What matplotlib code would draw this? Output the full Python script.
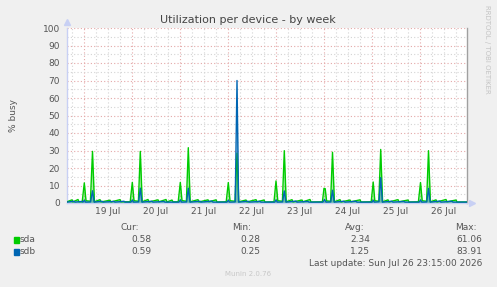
import numpy as np
import matplotlib
matplotlib.use("Agg")
from matplotlib import pyplot as plt

# hours since 19 Jul 00:00, values in % busy
sda_hours = [
    -8.5, -6.0, -5.5, -3.0, -2.5,
    -0.9, 0.15, 1.0, 3.2, 4.25, 5.2, 8.0, 8.5, 13.0, 13.5, 18.0, 18.5,
    23.1, 24.15, 25.0, 27.2, 28.15, 29.1, 32.0, 32.5, 37.0, 37.5, 41.0, 41.5, 44.0, 44.5,
    47.1, 48.15, 49.0, 51.2, 52.15, 53.1, 57.0, 57.5, 62.0, 62.5, 66.0, 66.5,
    71.1, 72.15, 73.0, 75.5, 76.5, 77.4, 81.0, 81.5, 86.0, 86.5, 90.0, 90.5,
    95.0, 96.0, 96.9, 99.2, 100.15, 101.1, 104.0, 104.5, 109.0, 109.5, 113.0, 113.5,
    119.2, 120.0, 120.6, 121.3, 123.3, 124.25, 125.2, 128.0, 128.5, 133.0, 133.5, 138.0, 138.5,
    143.6, 144.6, 145.4, 147.4, 148.35, 149.3, 152.0, 152.5, 157.0, 157.5, 162.0, 162.5,
    167.2, 168.25, 169.1, 171.3, 172.25, 173.2, 176.0, 176.5, 181.0, 181.5, 186.0, 186.5, 191.5,
]
sda_values = [
    0.7, 1.8, 0.6, 2.0, 0.7,
    0.7, 11.5, 1.3, 1.0, 29.5, 0.7, 1.9, 0.6, 1.6, 0.6, 1.9, 0.7,
    0.7, 11.8, 1.3, 1.0, 29.5, 0.7, 2.0, 0.6, 1.8, 0.7, 2.0, 0.6, 1.7, 0.7,
    0.7, 11.8, 1.4, 1.0, 31.6, 0.7, 1.9, 0.6, 1.8, 0.7, 1.8, 0.6,
    0.7, 11.7, 1.3, 1.0, 28.5, 0.7, 1.7, 0.6, 1.9, 0.7, 1.7, 0.6,
    0.7, 12.6, 1.3, 1.0, 29.9, 0.7, 1.9, 0.6, 1.7, 0.7, 2.0, 0.6,
    0.7, 8.4, 8.2, 1.2, 1.0, 29.0, 0.7, 1.9, 0.6, 1.7, 0.7, 1.8, 0.6,
    0.7, 12.0, 1.3, 1.0, 30.6, 0.7, 1.8, 0.6, 1.9, 0.7, 1.7, 0.6,
    0.7, 11.7, 1.3, 1.0, 29.9, 0.7, 1.8, 0.6, 2.0, 0.7, 1.7, 0.6, 0.6,
]
sdb_hours = [
    -8.5, -5.0, -4.5, -1.0, -0.5,
    0.15, 0.8, 3.3, 4.25, 5.1, 9.0, 9.5, 15.0, 15.5, 20.0, 20.5,
    23.5, 24.15, 24.8, 27.3, 28.15, 29.0, 34.0, 34.5, 40.0, 40.5,
    47.5, 48.15, 48.8, 51.3, 52.15, 53.0, 58.0, 58.5, 64.0, 64.5,
    71.5, 72.15, 72.8, 75.6, 76.5, 77.3, 82.0, 82.5, 88.0, 88.5,
    95.4, 96.0, 96.7, 99.3, 100.15, 101.0, 106.0, 106.5, 112.0, 112.5,
    119.5, 120.25, 121.0, 123.4, 124.25, 125.1, 130.0, 130.5, 136.0, 136.5,
    144.0, 144.6, 145.2, 147.5, 148.35, 149.2, 154.0, 154.5, 160.0, 160.5,
    167.6, 168.25, 168.9, 171.4, 172.25, 173.1, 178.0, 178.5, 184.0, 184.5, 191.5,
]
sdb_values = [
    0.5, 1.0, 0.5, 0.9, 0.5,
    1.6, 0.5, 0.6, 7.0, 0.5, 1.0, 0.5, 0.9, 0.5, 1.0, 0.5,
    0.5, 1.7, 0.5, 0.6, 8.5, 0.5, 1.0, 0.5, 0.9, 0.5,
    0.5, 1.8, 0.5, 0.6, 8.5, 0.5, 1.0, 0.5, 1.1, 0.5,
    0.5, 1.6, 0.5, 0.6, 70.0, 0.5, 1.0, 0.5, 0.9, 0.5,
    0.5, 1.8, 0.5, 0.6, 6.9, 0.5, 1.1, 0.5, 0.9, 0.5,
    0.5, 2.0, 0.5, 0.6, 7.3, 0.5, 1.0, 0.5, 1.0, 0.5,
    0.5, 1.6, 0.5, 0.7, 14.5, 0.5, 1.0, 0.5, 0.9, 0.5,
    0.5, 1.7, 0.5, 0.6, 8.4, 0.5, 1.1, 0.5, 1.0, 0.5, 0.5,
]

day_labels = ['19 Jul', '20 Jul', '21 Jul', '22 Jul', '23 Jul', '24 Jul', '25 Jul', '26 Jul']
label_hours = [12, 36, 60, 84, 108, 132, 156, 180]

series = ['sda', 'sdb']
colors = ['#00cc00', '#0066b3']
cur = ['0.58', '0.59']
vmin = ['0.28', '0.25']
avg = ['2.34', '1.25']
vmax = ['61.06', '83.91']

W, H = 497, 287


def px(x, y):
    return x / W, 1 - y / H


fig = plt.figure(figsize=(W / 100, H / 100), dpi=100, facecolor='#f0f0f0')
ax = fig.add_axes([67 / W, 84 / H, 400 / W, 175 / H])
ax.set_facecolor('white')
ax.set_xlim(-8.5, 191.5)
ax.set_ylim(0, 100)

# grid
for h in np.arange(-6, 192, 6):
    c = '#e4a8a8' if h % 24 == 0 else '#d4d4d4'
    ax.axvline(h, color=c, lw=0.8, ls=(0, (1, 2)), zorder=1)
for v in range(5, 101, 5):
    c = '#e4a8a8' if v % 10 == 0 else '#d4d4d4'
    ax.axhline(v, color=c, lw=0.8, ls=(0, (1, 2)), zorder=1)

# data
for name, t, v, c in [('sda', sda_hours, sda_values, colors[0]),
                      ('sdb', sdb_hours, sdb_values, colors[1])]:
    ax.fill_between(t, 0, v, color=c, alpha=0.35, lw=0, zorder=2)
    ax.plot(t, v, color=c, lw=1.0, zorder=3)

ax.set_yticks(range(0, 101, 10))
ax.set_xticks(label_hours, day_labels)
ax.tick_params(length=0, labelsize=6.5, labelcolor='#555555')
ax.tick_params(axis='y', pad=5)
ax.tick_params(axis='x', pad=3)

ax.spines['top'].set_visible(False)
ax.spines['right'].set_color('#a0a0a0')
ax.spines['left'].set_color('#c8d0f4')
ax.spines['bottom'].set_color('#c8d0f4')
for s in ax.spines.values():
    s.set_linewidth(1.0)
ax.plot([-8.5], [103.5], marker='^', ms=4, color='#c8d0f4', clip_on=False, zorder=5)
ax.plot([194], [0], marker='>', ms=4, color='#c8d0f4', clip_on=False, zorder=5)

# texts
fig.text(*px(248, 20), 'Utilization per device - by week', ha='center', va='center',
         fontsize=8, color='#444444')
fig.text(*px(14, 115), '% busy', ha='center', va='center', rotation=90,
         fontsize=6.5, color='#555555')
fig.text(*px(487, 5), 'RRDTOOL / TOBI OETIKER', ha='center', va='top', rotation=270,
         fontsize=5, color='#c4c4c4')

for x, lab in [(130, 'Cur:'), (242, 'Min:'), (355, 'Avg:'), (466, 'Max:')]:
    fig.text(*px(x, 227), lab, ha='center', va='center', fontsize=6.5, color='#555555')

for i, name in enumerate(series):
    y = 239.5 + 12 * i
    fig.patches.append(plt.Rectangle(px(14, y + 3), 5 / W, 6 / H, color=colors[i],
                                     transform=fig.transFigure, figure=fig))
    fig.text(*px(20, y), name, ha='left', va='center', fontsize=6.5, color='#555555')
    for x, val in [(151, cur[i]), (260, vmin[i]), (370, avg[i]), (482, vmax[i])]:
        fig.text(*px(x, y), val, ha='right', va='center', fontsize=6.5, color='#555555')

fig.text(*px(482, 263), 'Last update: Sun Jul 26 23:15:00 2026', ha='right', va='center',
         fontsize=6.5, color='#555555')
fig.text(*px(248, 274), 'Munin 2.0.76', ha='center', va='center', fontsize=5, color='#c8c8c8')

fig.savefig('out.png', dpi=100, facecolor=fig.get_facecolor())
